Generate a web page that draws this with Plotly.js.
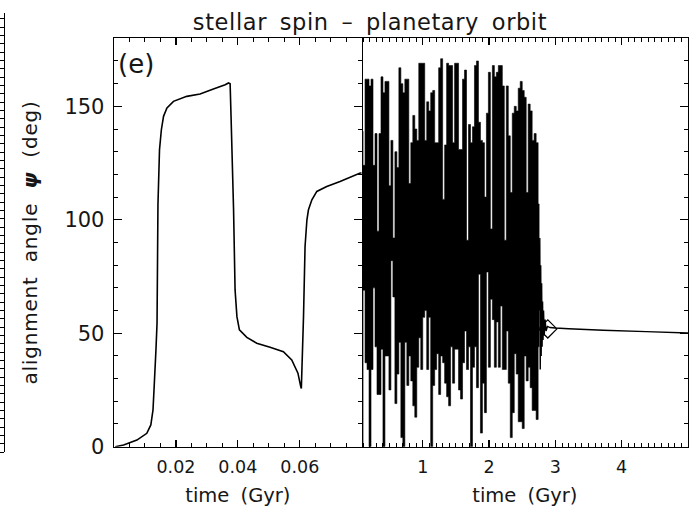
<!DOCTYPE html>
<html>
<head>
<meta charset="utf-8">
<script src="https://cdn.plot.ly/plotly-3.0.1.min.js"></script>
<style>
html,body{margin:0;padding:0;background:#fff;}
#chart{width:691px;height:507px;}
#chart .gtitle{word-spacing:5px;letter-spacing:0.6px;}
#chart .xtitle,#chart .x2title{word-spacing:5px;}
#chart .ytitle{word-spacing:7px;letter-spacing:0.8px;}
</style>
</head>
<body>
<div id="chart"></div>
<script>
// ---- Left panel: early evolution (0 - 0.08 Gyr) ----
var leftTime = [0.0004, 0.0031, 0.0074, 0.0106, 0.0119, 0.0126, 0.0130, 0.01355, 0.0139, 0.0142, 0.0147, 0.0153, 0.0160, 0.0171, 0.0192, 0.0235, 0.0278, 0.0321, 0.0359, 0.0370, 0.0375, 0.0378, 0.0386, 0.0391, 0.0397, 0.0405, 0.0429, 0.0461, 0.0504, 0.0547, 0.0574, 0.0594, 0.0603, 0.0605, 0.0612, 0.0617, 0.0623, 0.0628, 0.0639, 0.0655, 0.0687, 0.0730, 0.0795, 0.0800];
var leftPsi = [0, 0.75, 2.9, 5.9, 9.6, 16.2, 27.2, 42.6, 54.4, 106.6, 130.9, 139.7, 145.6, 149.3, 152.2, 154.4, 155.4, 157.6, 159.5, 160.3, 160.0, 145.6, 105.2, 69.1, 57.3, 51.5, 48.2, 45.6, 43.8, 41.9, 38.2, 32.4, 26.5, 25.7, 57.3, 88.2, 100.0, 104.4, 108.8, 112.5, 114.7, 116.9, 120.6, 120.6];

// ---- Right panel: oscillating phase, read as per-column maxima / minima ----
var colTime = [0.085, 0.115, 0.145, 0.175, 0.205, 0.235, 0.265, 0.295, 0.325, 0.355,
  0.385, 0.415, 0.445, 0.475, 0.505, 0.535, 0.565, 0.595, 0.625, 0.655,
  0.685, 0.715, 0.745, 0.775, 0.805, 0.835, 0.865, 0.895, 0.925, 0.955,
  0.985, 1.015, 1.045, 1.075, 1.105, 1.135, 1.165, 1.195, 1.225, 1.255,
  1.285, 1.315, 1.345, 1.375, 1.405, 1.435, 1.465, 1.495, 1.525, 1.555,
  1.585, 1.615, 1.645, 1.675, 1.705, 1.735, 1.765, 1.795, 1.825, 1.855,
  1.885, 1.915, 1.945, 1.975, 2.005, 2.035, 2.065, 2.095, 2.125, 2.155,
  2.185, 2.215, 2.245, 2.275, 2.305, 2.335, 2.365, 2.395, 2.425, 2.455,
  2.485, 2.515, 2.545, 2.575, 2.605, 2.635, 2.665, 2.695, 2.725, 2.755];
var colMax = [139, 124, 162, 162, 159, 162, 124, 138, 95, 138,
  163, 156, 161, 161, 115, 135, 92, 130, 123, 167,
  160, 156, 162, 162, 116, 134, 146, 140, 135, 169,
  169, 169, 135, 152, 148, 156, 157, 134, 134, 167,
  171, 109, 133, 169, 168, 168, 134, 169, 169, 131,
  131, 162, 166, 91, 142, 134, 141, 168, 170, 143,
  135, 134, 110, 147, 165, 96, 168, 163, 165, 168,
  168, 159, 91, 159, 137, 112, 147, 150, 148, 158,
  161, 157, 154, 112, 151, 148, 135, 138, 134, 107];
var colMin = [0, 69, 37, 34, 0, 34, 70, 44, 23, 23,
  43, 0, 40, 40, 25, 82, 66, 19, 32, 46,
  4, 0, 46, 27, 40, 29, 18, 13, 35, 48,
  34, 57, 60, 34, 57, 0, 27, 34, 41, 23,
  40, 37, 28, 22, 18, 44, 28, 43, 43, 25,
  21, 37, 51, 34, 44, 0, 35, 44, 26, 76,
  6, 28, 15, 77, 35, 65, 56, 35, 55, 35,
  62, 34, 34, 51, 28, 4, 15, 41, 32, 11,
  11, 8, 40, 29, 35, 26, 16, 16, 12, 44];
// convergence and late, nearly constant phase
var tailTime = [2.755, 2.765, 2.772, 2.779, 2.786, 2.793, 2.800, 2.807, 2.814, 2.822, 2.832, 2.845, 2.860, 2.880, 2.920, 3.00, 3.20, 3.72, 4.37, 5.00];
var tailPsi = [60, 92, 34, 80, 40, 72, 44, 64, 47, 60, 49, 56, 51, 53, 52.5, 52.3, 52.0, 51.3, 50.7, 50.1];
// open diamond marker
var markTime = [2.886];
var markPsi = [51.9];

// tick labels
var leftTicks = [0.02, 0.04, 0.06];
var leftTickText = ['0.02', '0.04', '0.06'];
var rightTicks = [1, 2, 3, 4];
var rightTickText = ['1', '2', '3', '4'];
var psiTicks = [0, 50, 100, 150];
var psiTickText = ['0', '50', '100', '150'];

// closed outline: maxima left->right, then minima right->left (filled black)
var bandX = colTime.concat(colTime.slice().reverse());
var bandY = colMax.concat(colMin.slice().reverse());

var FONT = 'DejaVu Sans, Liberation Sans, sans-serif';
var TXT = '#161616';
var data = [
  {x: leftTime, y: leftPsi, xaxis: 'x', yaxis: 'y', mode: 'lines', line: {color: '#000', width: 1.6, simplify: false}, hoverinfo: 'skip'},
  {x: bandX, y: bandY, xaxis: 'x2', yaxis: 'y2', mode: 'lines', fill: 'toself', fillcolor: '#000',
    line: {color: '#000', width: 0.6, shape: 'hvh', simplify: false}, hoverinfo: 'skip'},
  {x: tailTime, y: tailPsi, xaxis: 'x2', yaxis: 'y2', mode: 'lines', line: {color: '#000', width: 1.4, simplify: false}, hoverinfo: 'skip'},
  {x: markTime, y: markPsi, xaxis: 'x2', yaxis: 'y2', mode: 'markers', marker: {symbol: 'diamond-open', size: 14, color: '#000', line: {width: 1.2, color: '#000'}}, hoverinfo: 'skip'},
  {x: [], y: [], xaxis: 'x', yaxis: 'y3', mode: 'lines', hoverinfo: 'skip'}
];

var D1 = [0.1608, 0.5230], D2 = [0.5230, 1.0], DY = [0.0121, 0.9424];
function xAx(dom, rng, tv, tt, minorDt, anchor) {
  return {domain: dom, range: rng, tickvals: tv, ticktext: tt, anchor: anchor,
    ticks: 'inside', ticklen: 7, tickwidth: 1.2, tickcolor: '#000',
    showline: true, linewidth: 1.3, linecolor: '#000', mirror: 'ticks',
    minor: {dtick: minorDt, tick0: 0, ticks: 'inside', ticklen: 4, tickwidth: 1, tickcolor: '#000', showgrid: false},
    showgrid: false, zeroline: false, automargin: false,
    tickfont: {size: 17.5, family: FONT, color: TXT}, ticklabelstandoff: 4,
    title: {text: 'time (Gyr)', font: {size: 19.5, family: FONT, color: TXT}, standoff: 12}};
}
var layout = {
  width: 691, height: 507,
  margin: {l: 4, r: 3, t: 13, b: 55, pad: 0},
  paper_bgcolor: '#fff', plot_bgcolor: 'rgba(0,0,0,0)',
  showlegend: false,
  font: {family: FONT, color: TXT},
  title: {text: 'stellar spin \u2013 planetary orbit', font: {size: 22.5, family: FONT, color: TXT},
    xref: 'container', x: 370 / 691, xanchor: 'center', yref: 'container', y: 1 - 22 / 507, yanchor: 'middle'},
  xaxis: xAx(D1, [0, 0.08], leftTicks, leftTickText, 0.005, 'y'),
  xaxis2: xAx(D2, [0.08, 5], rightTicks, rightTickText, 0.1, 'y2'),
  yaxis: {domain: DY, range: [0, 180], anchor: 'x', tickvals: psiTicks, ticktext: psiTickText,
    ticks: 'inside', ticklen: 8, tickwidth: 1.2, tickcolor: '#000',
    showline: true, linewidth: 1.3, linecolor: '#000', mirror: 'ticks',
    minor: {dtick: 10, tick0: 0, ticks: 'inside', ticklen: 4, tickwidth: 1, tickcolor: '#000', showgrid: false},
    showgrid: false, zeroline: false, automargin: false,
    tickfont: {size: 21, family: FONT, color: TXT}, ticklabelstandoff: 4,
    title: {text: 'alignment angle <b><i>\u03c8</i></b> (deg)', font: {size: 20, family: FONT, color: TXT}, standoff: 21}},
  yaxis2: {domain: DY, range: [0, 180], anchor: 'x2', side: 'right', tickvals: psiTicks,
    showticklabels: false, ticks: 'inside', ticklen: 8, tickwidth: 1.2, tickcolor: '#000',
    showline: true, linewidth: 1.3, linecolor: '#000',
    minor: {dtick: 10, tick0: 0, ticks: 'inside', ticklen: 4, tickwidth: 1, tickcolor: '#000', showgrid: false},
    showgrid: false, zeroline: false, automargin: false},
  yaxis3: {domain: [0, 1], range: [0, 52.7], anchor: 'free', position: 0, side: 'left',
    dtick: 1, tick0: 0, ticks: 'outside', ticklen: 4, tickwidth: 1, tickcolor: '#000',
    showticklabels: false, showline: true, linewidth: 1.3, linecolor: '#000',
    showgrid: false, zeroline: false, automargin: false},
  annotations: [{text: '(e)', xref: 'paper', yref: 'paper', x: 0.193, y: 0.883, xanchor: 'center', yanchor: 'middle',
    showarrow: false, font: {size: 26, family: FONT, color: TXT}}]
};
Plotly.newPlot('chart', data, layout, {staticPlot: true, displayModeBar: false});
</script>
</body>
</html>
